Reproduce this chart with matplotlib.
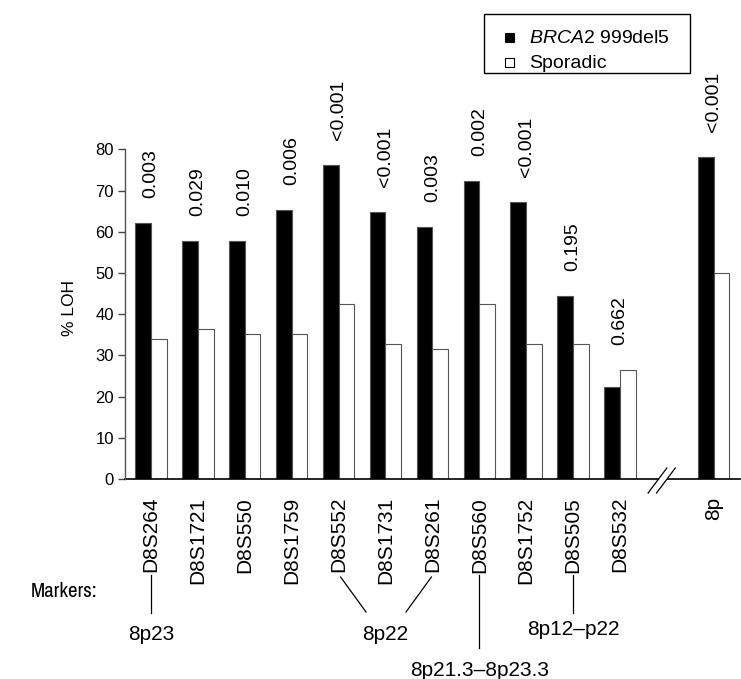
# LOH per marker, BRCA2 999del5 vs sporadic
import matplotlib.pyplot as plt
from matplotlib.patches import Rectangle
from matplotlib.lines import Line2D
import matplotlib.transforms as mtransforms
from matplotlib import font_manager

W, H = 741, 679

markers = ['D8S264', 'D8S1721', 'D8S550', 'D8S1759', 'D8S552', 'D8S1731',
           'D8S261', 'D8S560', 'D8S1752', 'D8S505', 'D8S532', '8p']
positions = [0, 1, 2, 3, 4, 5, 6, 7, 8, 9, 10, 12]
brca2 = [62.2, 57.8, 57.8, 65.2, 76.2, 64.7, 61.2, 72.3, 67.3, 44.4, 22.4, 78.1]
sporadic = [34.0, 36.4, 35.3, 35.3, 42.5, 32.8, 31.6, 42.5, 32.8, 32.8, 26.5, 50.0]
pvalues = ['0.003', '0.029', '0.010', '0.006', '<0.001', '<0.001', '0.003',
           '0.002', '<0.001', '0.195', '0.662', '<0.001']

band_labels = ['8p23', '8p22', '8p21.3\u20138p23.3', '8p12\u2013p22']

plt.rcParams['font.family'] = ['Liberation Sans', 'DejaVu Sans']
plt.rcParams['mathtext.fontset'] = 'custom'
plt.rcParams['mathtext.it'] = 'Liberation Sans:italic'
plt.rcParams['mathtext.rm'] = 'Liberation Sans'

FS = 15

# narrow face for the "Markers:" caption, if one is installed
narrow_names = {f.name for f in font_manager.fontManager.ttflist
                if 'Narrow' in f.name or 'Condensed' in f.name}
narrow = sorted(narrow_names)[:1] + ['Liberation Sans']


def px(x, y):
    return x / W, 1 - y / H


fig = plt.figure(figsize=(W / 100, H / 100), dpi=100)
x0, y0 = 125, 479
x1, y1 = 740, 149.3
ax = fig.add_axes([x0 / W, 1 - y0 / H, (x1 - x0) / W, (y0 - y1) / H])

bw = 0.335
ax.bar([p - bw / 2 for p in positions], brca2, width=bw, color='black',
       edgecolor='#555555', linewidth=0.8)
ax.bar([p + bw / 2 for p in positions], sporadic, width=bw, color='white',
       edgecolor='#555555', linewidth=0.8)

for p, b, s, t in zip(positions, brca2, sporadic, pvalues):
    ax.annotate(t, (p, max(b, s)), xytext=(0, 18), textcoords='offset points',
                rotation=90, ha='center', va='bottom', fontsize=14,
                annotation_clip=False)

ax.set_xlim(-0.554, 12.56)
ax.set_ylim(0, 80)
ax.set_yticks(range(0, 81, 10))
ax.tick_params(axis='y', direction='out', length=5, width=1, labelsize=12,
               color='#444444', pad=3)
ax.set_xticks([])
for s in ['top', 'right', 'bottom']:
    ax.spines[s].set_visible(False)
ax.spines['left'].set_color('#555555')
ax.spines['left'].set_linewidth(1)

# broken x axis
tr = mtransforms.blended_transform_factory(ax.transData, ax.transAxes)
gap_a, gap_b = 10.81, 11.02
ax.plot([-0.554, gap_a], [0, 0], color='black', lw=1.2, transform=tr, clip_on=False)
ax.plot([gap_b, 12.56], [0, 0], color='black', lw=1.2, transform=tr, clip_on=False)
dy = 1 / (y0 - y1)
for xs in (10.60, 10.78):
    ax.plot([xs, xs + 0.40], [-14 * dy, 11 * dy], color='black', lw=0.9,
            transform=tr, clip_on=False)

fig.text(*px(70, 308), '% LOH', rotation=90, ha='center', va='center', fontsize=12.5)

# marker labels
for p, m in zip(positions, markers):
    ax.text(p, -18 * dy, m, rotation=90, ha='center', va='top', fontsize=FS,
            transform=tr)

fig.text(*px(97, 597), 'Markers:', ha='right', va='baseline', fontsize=FS,
         family=narrow, fontstretch='condensed')


# band annotations
def cx(i):
    return 151 + i * 46.9


line_kw = dict(color='black', lw=0.9)
fig.add_artist(Line2D(*zip(px(cx(0), 575), px(cx(0), 613)), **line_kw))
fig.text(*px(cx(0), 640), band_labels[0], ha='center', va='baseline', fontsize=FS)

fig.add_artist(Line2D(*zip(px(cx(4) + 2, 577), px(366, 612)), **line_kw))
fig.add_artist(Line2D(*zip(px(cx(6) - 1, 577), px(406, 612)), **line_kw))
fig.text(*px(385, 640), band_labels[1], ha='center', va='baseline', fontsize=FS)

fig.add_artist(Line2D(*zip(px(cx(7), 575), px(cx(7), 648)), **line_kw))
fig.text(*px(cx(7), 676), band_labels[2], ha='center', va='baseline', fontsize=FS)

fig.add_artist(Line2D(*zip(px(cx(9), 575), px(cx(9), 613)), **line_kw))
fig.text(*px(cx(9), 635), band_labels[3], ha='center', va='baseline', fontsize=FS)

# legend box
lx, ly, lw_, lh = 484, 14, 206, 59
fig.add_artist(Rectangle(px(lx, ly + lh), lw_ / W, lh / H, transform=fig.transFigure,
                         fill=False, edgecolor='black', lw=1))
fig.add_artist(Rectangle(px(505, 42), 9 / W, 9 / H, transform=fig.transFigure,
                         facecolor='black', edgecolor='black', lw=0.8))
fig.add_artist(Rectangle(px(505, 67), 9 / W, 9 / H, transform=fig.transFigure,
                         facecolor='white', edgecolor='black', lw=0.8))
fig.text(*px(529, 43), r'$\it{BRCA2}$ 999del5', ha='left', va='baseline', fontsize=14)
fig.text(*px(529, 68), 'Sporadic', ha='left', va='baseline', fontsize=14)

fig.savefig('out.png', dpi=100)
plt.close(fig)
